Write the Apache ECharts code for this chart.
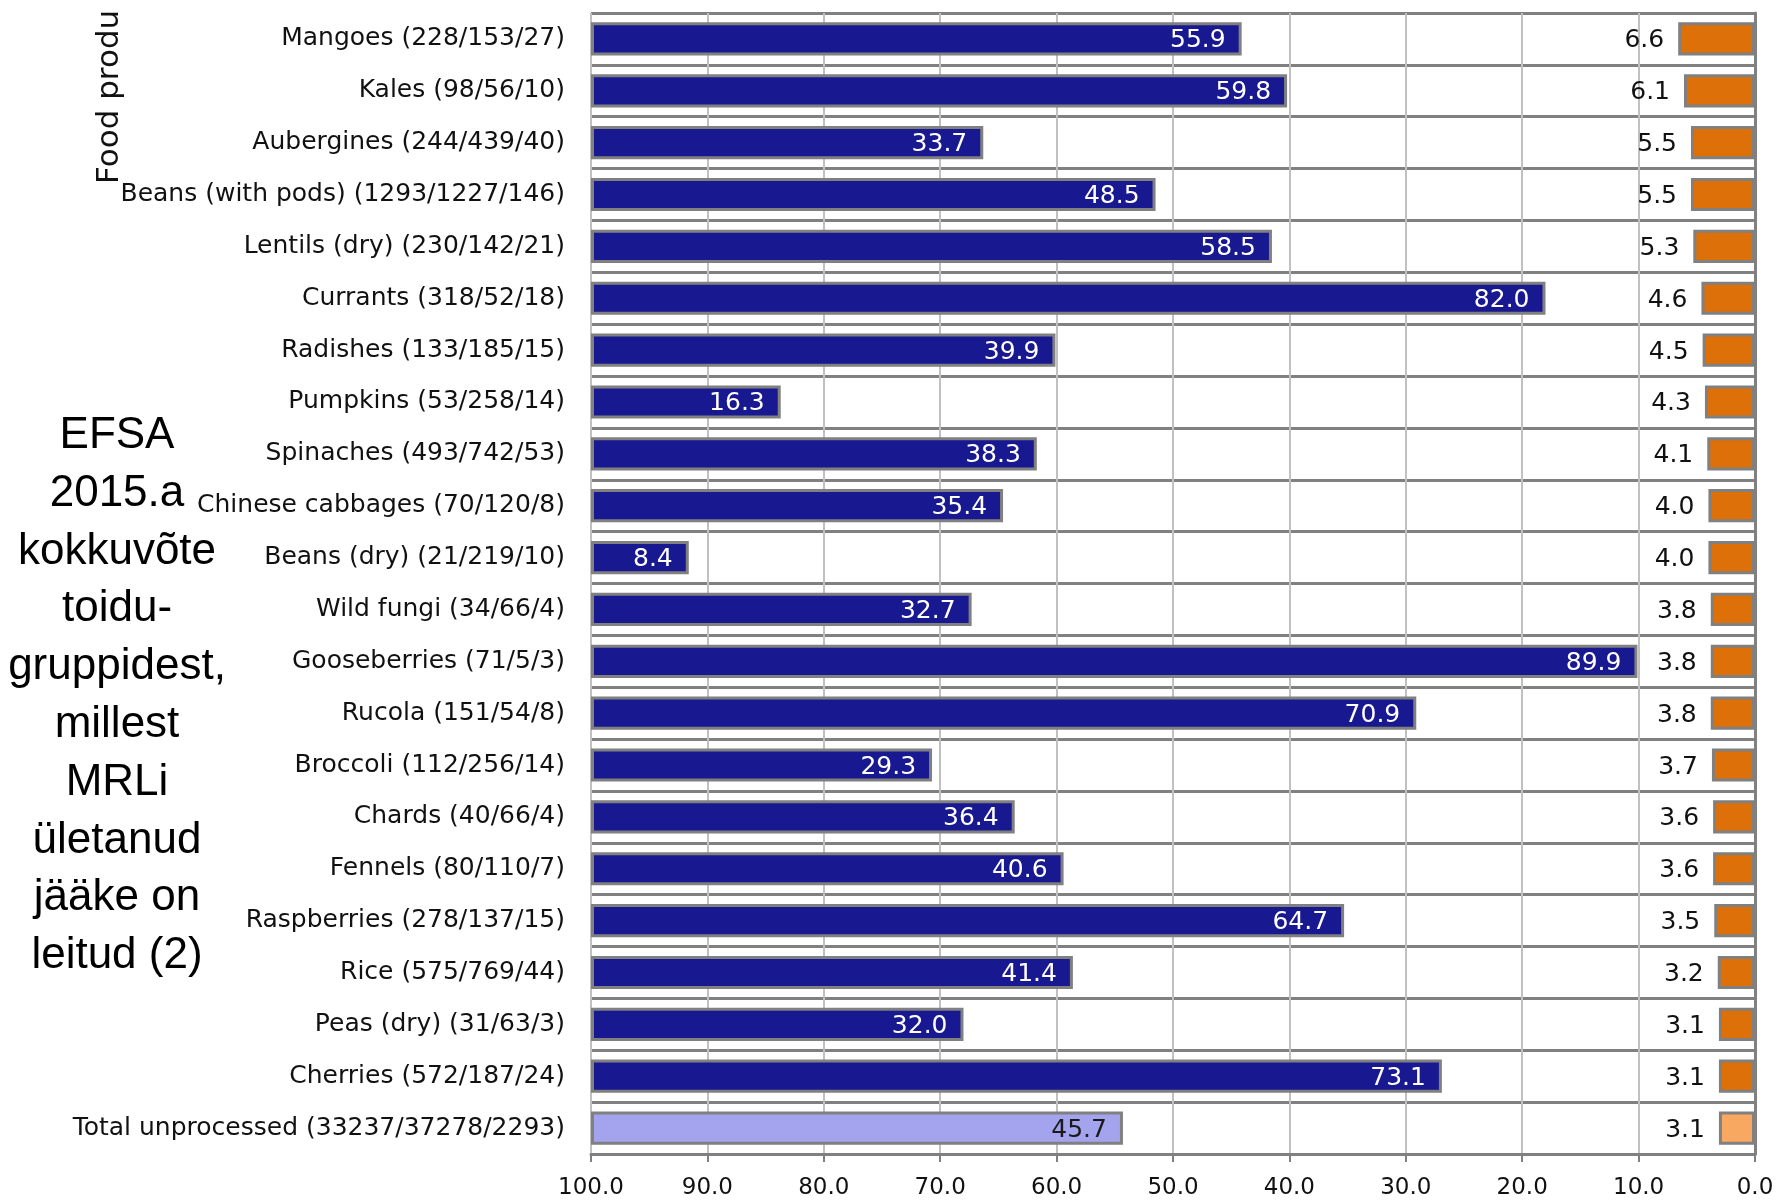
<!DOCTYPE html>
<html lang="et">
<head>
    <meta charset="UTF-8"/>
    <script src="https://cdn.jsdelivr.net/npm/echarts@6/dist/echarts.min.js"></script>
    <title>EFSA 2015</title>
    <style>
        html, body { margin: 0; padding: 0; background: #fff; }
    </style>
</head>
<body>
<div id="main" style="width: 1787px; height: 1203px;"></div>
<script type="text/javascript">
    // andmed
    var categories = [
        'Mangoes (228/153/27)', 'Kales (98/56/10)', 'Aubergines (244/439/40)',
        'Beans (with pods) (1293/1227/146)', 'Lentils (dry) (230/142/21)', 'Currants (318/52/18)',
        'Radishes (133/185/15)', 'Pumpkins (53/258/14)', 'Spinaches (493/742/53)',
        'Chinese cabbages (70/120/8)', 'Beans (dry) (21/219/10)', 'Wild fungi (34/66/4)',
        'Gooseberries (71/5/3)', 'Rucola (151/54/8)', 'Broccoli (112/256/14)',
        'Chards (40/66/4)', 'Fennels (80/110/7)', 'Raspberries (278/137/15)',
        'Rice (575/769/44)', 'Peas (dry) (31/63/3)', 'Cherries (572/187/24)',
        'Total unprocessed (33237/37278/2293)'
    ];
    var blueValues = [55.9, 59.8, 33.7, 48.5, 58.5, 82.0, 39.9, 16.3, 38.3, 35.4, 8.4,
        32.7, 89.9, 70.9, 29.3, 36.4, 40.6, 64.7, 41.4, 32.0, 73.1, 45.7];
    var orangeValues = [6.6, 6.1, 5.5, 5.5, 5.3, 4.6, 4.5, 4.3, 4.1, 4.0, 4.0,
        3.8, 3.8, 3.8, 3.7, 3.6, 3.6, 3.5, 3.2, 3.1, 3.1, 3.1];
    var annotation = ['EFSA', '2015.a', 'kokkuvõte', 'toidu-', 'gruppidest,', 'millest',
        'MRLi', 'ületanud', 'jääke on', 'leitud (2)'];
    var axisName = 'Food produ';

    var chartFont = 'DejaVu Sans';
    var lastIdx = categories.length - 1;

    var myChart = echarts.init(document.getElementById('main'));

    var blueData = blueValues.map(function (v, i) {
        if (i !== lastIdx) return v;
        return {value: v, itemStyle: {color: '#a4a4ee'}, label: {color: '#1a1a1a'}};
    });
    var orangeData = orangeValues.map(function (v, i) {
        if (i !== lastIdx) return v;
        return {value: v, itemStyle: {color: '#f8a860'}};
    });

    var option = {
        animation: false,
        backgroundColor: '#ffffff',
        grid: {left: 591, right: 32, top: 13, bottom: 49, containLabel: false},
        xAxis: [
            {
                type: 'value', min: 0, max: 100, interval: 10, inverse: true,
                position: 'bottom',
                axisLine: {show: true, lineStyle: {color: '#808080', width: 3}},
                axisTick: {show: true, length: 8, lineStyle: {color: '#808080', width: 2}},
                axisLabel: {
                    margin: 23, color: '#111', fontFamily: chartFont, fontSize: 23,
                    formatter: function (v) { return v.toFixed(1); }
                },
                splitLine: {show: true, lineStyle: {color: '#c0c0c0', width: 2}}
            },
            {
                type: 'value', min: 0, max: 100, show: false
            }
        ],
        yAxis: {
            type: 'category', data: categories, inverse: true,
            axisLine: {show: true, lineStyle: {color: '#808080', width: 3}},
            axisTick: {show: true, length: 9, interval: 0, lineStyle: {color: '#808080', width: 3}},
            axisLabel: {margin: 26, color: '#111', fontFamily: chartFont, fontSize: 25, interval: 0},
            splitLine: {show: true, interval: 0, lineStyle: {color: '#808080', width: 3}}
        },
        series: [
            {
                name: 'blue', type: 'bar', xAxisIndex: 1, data: blueData,
                barWidth: '64%', barGap: '-100%',
                itemStyle: {color: '#181890', borderColor: '#808080', borderWidth: 3},
                label: {
                    show: true, position: 'insideRight', distance: 16, color: '#ffffff',
                    fontFamily: chartFont, fontSize: 25, offset: [0, 2],
                    formatter: function (p) { return p.value.toFixed(1); }
                }
            },
            {
                name: 'orange', type: 'bar', xAxisIndex: 0, data: orangeData,
                barWidth: '64%', barGap: '-100%',
                itemStyle: {color: '#dd7008', borderColor: '#808080', borderWidth: 3},
                label: {
                    show: true, position: 'left', distance: 14, color: '#111',
                    fontFamily: chartFont, fontSize: 25, offset: [0, 2],
                    formatter: function (p) { return p.value.toFixed(1); }
                }
            }
        ],
        graphic: [
            {
                type: 'text', x: 117, y: 407,
                style: {
                    text: annotation.join('\n'), align: 'center', textAlign: 'center',
                    verticalAlign: 'top', textVerticalAlign: 'top',
                    font: '44px "Liberation Sans"', lineHeight: 57.8, fill: '#000'
                }
            },
            {
                type: 'text', x: 110, y: 184, rotation: Math.PI / 2,
                style: {
                    text: axisName, align: 'left', textAlign: 'left',
                    verticalAlign: 'middle', textVerticalAlign: 'middle',
                    font: '31px "DejaVu Sans"', fill: '#111'
                }
            }
        ]
    };

    myChart.setOption(option);
</script>
</body>
</html>
